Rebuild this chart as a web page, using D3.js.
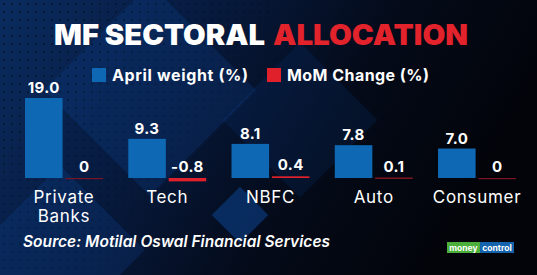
<!DOCTYPE html>
<html>
<head>
<meta charset="utf-8">
<script src="https://cdn.jsdelivr.net/npm/d3@7"></script>
<style>
  html, body { margin: 0; padding: 0; background: #03060d; }
  svg { display: block; }
</style>
</head>
<body>
<div id="chart"></div>
<script>
// Chart data
const categories = ["Private Banks", "Tech", "NBFC", "Auto", "Consumer"];
const categoryLines = [["Private", "Banks"], ["Tech"], ["NBFC"], ["Auto"], ["Consumer"]];
const aprilWeight = [19.0, 9.3, 8.1, 7.8, 7.0];
const momChange = [0, -0.8, 0.4, 0.1, 0];
const seriesNames = ["April weight (%)", "MoM Change (%)"];
const weightLabels = ["19.0", "9.3", "8.1", "7.8", "7.0"];
const momLabels = ["0", "-0.8", "0.4", "0.1", "0"];

const width = 537, height = 275;
const blue = "#0e68b3", red = "#e0202a";

const svg = d3.select("#chart").append("svg")
    .attr("width", width)
    .attr("height", height);

// Background: dark navy with some blue diamonds on the left
const defs = svg.append("defs");
const bg = defs.append("linearGradient").attr("id", "bg")
    .attr("x1", "0").attr("y1", "0").attr("x2", "1").attr("y2", "0.3");
bg.append("stop").attr("offset", "0").attr("stop-color", "#0a2c60");
bg.append("stop").attr("offset", "0.35").attr("stop-color", "#071b40");
bg.append("stop").attr("offset", "0.7").attr("stop-color", "#040a18");
bg.append("stop").attr("offset", "1").attr("stop-color", "#02040a");

const dots = defs.append("pattern").attr("id", "dots")
    .attr("width", 8).attr("height", 8).attr("patternUnits", "userSpaceOnUse");
dots.append("circle").attr("cx", 4).attr("cy", 4).attr("r", 1.1).attr("fill", "#020816").attr("opacity", 0.7);

const fade = defs.append("linearGradient").attr("id", "fade")
    .attr("x1", "0").attr("y1", "0").attr("x2", "1").attr("y2", "0.4");
fade.append("stop").attr("offset", "0").attr("stop-color", "#fff").attr("stop-opacity", 1);
fade.append("stop").attr("offset", "0.6").attr("stop-color", "#fff").attr("stop-opacity", 0);
defs.append("mask").attr("id", "fadeMask")
    .append("rect").attr("width", width).attr("height", height).attr("fill", "url(#fade)");

svg.append("rect").attr("width", width).attr("height", height).attr("fill", "url(#bg)");

const diamonds = [
    { cx: 150, cy: 90, s: 150, o: 0.3 },
    { cx: 60, cy: 250, s: 120, o: 0.3 },
    { cx: 240, cy: 215, s: 40, o: 0.6 },
    { cx: 300, cy: 120, s: 110, o: 0.18 }
];
svg.append("g").selectAll("rect").data(diamonds).join("rect")
    .attr("x", d => -d.s / 2).attr("y", d => -d.s / 2)
    .attr("width", d => d.s).attr("height", d => d.s)
    .attr("transform", d => `translate(${d.cx},${d.cy}) rotate(45)`)
    .attr("fill", "#0c3f88")
    .attr("opacity", d => d.o);

svg.append("rect").attr("width", width).attr("height", height)
    .attr("fill", "url(#dots)").attr("mask", "url(#fadeMask)");

// Title
const titleFont = "Inter, 'DejaVu Sans', sans-serif";
svg.append("text").attr("x", 54).attr("y", 45)
    .attr("font-family", titleFont).attr("font-weight", 900).attr("font-size", 28)
    .attr("fill", "#fff").attr("textLength", 211).attr("lengthAdjust", "spacingAndGlyphs")
    .text("MF SECTORAL");
svg.append("text").attr("x", 273).attr("y", 45)
    .attr("font-family", titleFont).attr("font-weight", 900).attr("font-size", 28)
    .attr("fill", "#e3232c").attr("textLength", 195).attr("lengthAdjust", "spacingAndGlyphs")
    .text("ALLOCATION");

// Legend
const legend = svg.append("g").attr("font-family", titleFont)
    .attr("font-weight", 700).attr("font-size", 16).attr("fill", "#fff");
const legendX = [92, 267];
const legendLen = [136, 142];
seriesNames.forEach((name, i) => {
    const g = legend.append("g").attr("transform", `translate(${legendX[i]},68)`);
    g.append("rect").attr("width", 14).attr("height", 14).attr("fill", i === 0 ? blue : red);
    g.append("text").attr("x", 20).attr("y", 13)
        .attr("textLength", legendLen[i]).attr("lengthAdjust", "spacing")
        .text(name);
});

// Scales
const x0 = d3.scaleBand().domain(categories).range([25, 516]).paddingInner(0.245).paddingOuter(0);
const x1 = d3.scaleBand().domain([0, 1]).range([0, x0.bandwidth()]).paddingInner(0.07);
const y = d3.scaleLinear().domain([0, 19]).range([178, 98]);

const rows = categories.map((c, i) => ({
    cat: c, lines: categoryLines[i],
    w: aprilWeight[i], m: momChange[i],
    wl: weightLabels[i], ml: momLabels[i]
}));

const groups = svg.append("g").selectAll("g").data(rows).join("g")
    .attr("transform", d => `translate(${x0(d.cat)},0)`);

// April weight bars
groups.append("rect")
    .attr("x", x1(0)).attr("width", x1.bandwidth())
    .attr("y", d => y(d.w)).attr("height", d => y(0) - y(d.w))
    .attr("fill", blue);

// MoM change bars (thin)
groups.append("rect")
    .attr("x", x1(1)).attr("width", x1.bandwidth())
    .attr("y", d => Math.min(y(d.m), y(0)))
    .attr("height", d => Math.max(Math.abs(y(0) - y(d.m)), 1.2))
    .attr("fill", d => d.m === 0 ? "#7a1424" : red)
    .attr("opacity", d => Math.abs(d.m) < 0.2 && d.m !== 0 ? 0.7 : 1);

// Value labels
const valueFont = { family: titleFont, weight: 700, size: 15 };
groups.append("text")
    .attr("x", x1(0) + x1.bandwidth() / 2).attr("y", d => y(d.w) - 5)
    .attr("text-anchor", "middle")
    .attr("font-family", valueFont.family).attr("font-weight", valueFont.weight)
    .attr("font-size", valueFont.size).attr("letter-spacing", 0.4).attr("fill", "#fff")
    .text(d => d.wl);
groups.append("text")
    .attr("x", x1(1) + x1.bandwidth() / 2).attr("y", d => Math.min(y(d.m), y(0)) - 6)
    .attr("text-anchor", "middle")
    .attr("font-family", valueFont.family).attr("font-weight", valueFont.weight)
    .attr("font-size", valueFont.size).attr("letter-spacing", 0.4).attr("fill", "#fff")
    .text(d => d.ml);

// Category labels
const catText = groups.append("text")
    .attr("x", x0.bandwidth() / 2).attr("y", 203)
    .attr("text-anchor", "middle")
    .attr("font-family", titleFont).attr("font-weight", 400)
    .attr("font-size", 17).attr("letter-spacing", 0.7).attr("fill", "#fff");
catText.selectAll("tspan").data(d => d.lines).join("tspan")
    .attr("x", x0.bandwidth() / 2)
    .attr("dy", (d, i) => i === 0 ? 0 : 19)
    .text(d => d);

// Source
svg.append("text").attr("x", 23).attr("y", 247)
    .attr("font-family", titleFont).attr("font-weight", 600).attr("font-style", "italic")
    .attr("font-size", 15.5).attr("fill", "#fff")
    .attr("textLength", 307).attr("lengthAdjust", "spacing")
    .text("Source: Motilal Oswal Financial Services");

// moneycontrol logo
const logo = svg.append("g").attr("transform", "translate(447,242)")
    .attr("font-family", titleFont).attr("font-weight", 700).attr("font-size", 8.5).attr("fill", "#fff");
logo.append("rect").attr("width", 33).attr("height", 11).attr("fill", "#4caf3c");
logo.append("rect").attr("x", 33).attr("width", 34).attr("height", 11).attr("fill", "#1464ad");
logo.append("text").attr("x", 16.5).attr("y", 8.5).attr("text-anchor", "middle").text("money");
logo.append("text").attr("x", 50).attr("y", 8.5).attr("text-anchor", "middle").text("control");
</script>
</body>
</html>
